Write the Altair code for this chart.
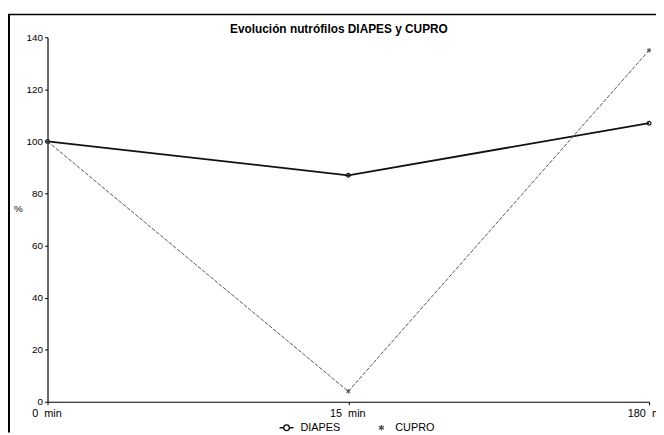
import altair as alt
import pandas as pd

# ---- data ----
times = ["0 min", "15 min", "180 min"]
series = ["DIAPES", "CUPRO"]
diapes = [100, 87, 107]
cupro = [100, 4, 135]
y_ticks = [0, 20, 40, 60, 80, 100, 120, 140]
title_text = "Evolución nutrófilos DIAPES y CUPRO"

rows = []
for t, v in zip(times, diapes):
    rows.append({"tiempo": t, "serie": "DIAPES", "valor": v})
for t, v in zip(times, cupro):
    rows.append({"tiempo": t, "serie": "CUPRO", "valor": v})
df = pd.DataFrame(rows)

FONT = "Liberation Sans"
STAR = "M0,-1L0,1M-0.87,-0.5L0.87,0.5M-0.87,0.5L0.87,-0.5"
STAR_SMALL = "M0,-0.4L0,0.4M-0.35,-0.2L0.35,0.2M-0.35,0.2L0.35,-0.2"
DASH_CIRCLE = ("M-1,0L-0.4,0M0.4,0L1,0M0.4,0A0.4,0.4,0,1,1,-0.4,0"
               "A0.4,0.4,0,1,1,0.4,0")

cscale = alt.Scale(domain=series, range=["#111111", "#555555"])

x_enc = alt.X(
    "tiempo:N", sort=times,
    scale=alt.Scale(type="point", padding=0),
    axis=alt.Axis(title=None, labelAngle=0, labelOffset=-1, labelPadding=3,
                  labelFontSize=11,
                  labelExpr="replace(datum.label, ' ', '\u00a0\u00a0')"),
)
y_enc = alt.Y(
    "valor:Q",
    scale=alt.Scale(domain=[0, 140], nice=False),
    axis=alt.Axis(values=y_ticks, title="%", titleAngle=0, titleX=-30, titleY=173,
                  titleAlign="center", titleBaseline="middle", titleFontSize=10,
                  titleFontWeight="normal", labelPadding=2),
)

base = alt.Chart(df).encode(x=x_enc, y=y_enc)
d_only = base.transform_filter(alt.datum.serie == "DIAPES")
c_only = base.transform_filter(alt.datum.serie == "CUPRO")

line_d = d_only.mark_line(color="#111111", strokeWidth=1.8)
line_c = c_only.mark_line(color="#555555", strokeWidth=1.0, strokeDash=[4, 1.5])

pts_d = d_only.mark_point(shape="circle", filled=False, size=14, color="#111111",
                          strokeWidth=1.2, opacity=1)
pts_c = c_only.mark_point(shape=STAR, filled=False, size=22, color="#444444",
                          strokeWidth=1, opacity=1)

leg = alt.Legend(orient="none", legendX=234, legendY=387, direction="horizontal",
                 title=None, labelFont=FONT, labelFontSize=11, labelColor="black",
                 symbolSize=200, columnPadding=33, symbolStrokeWidth=1.3, labelOffset=6)

legend_layer = base.transform_filter(alt.datum.valor < 0).mark_point(
    filled=False, strokeWidth=1.3, opacity=1).encode(
    color=alt.Color("serie:N", scale=cscale, legend=leg),
    shape=alt.Shape("serie:N", scale=alt.Scale(domain=series, range=[DASH_CIRCLE, STAR_SMALL]), legend=leg),
)

one = pd.DataFrame({"k": [0]})
frame_left = alt.Chart(one).mark_rule(color="black", strokeWidth=2).encode(
    x=alt.value(-39), y=alt.value(-23), y2=alt.value(400))
frame_top = alt.Chart(one).mark_rule(color="black", strokeWidth=1.5).encode(
    x=alt.value(-40), x2=alt.value(620), y=alt.value(-23))
title_mark = alt.Chart(one).mark_text(
    text=title_text, font=FONT, fontSize=12, fontWeight="bold", color="black",
    align="center", baseline="middle").encode(x=alt.value(295), y=alt.value(-8))

chart = alt.layer(frame_left, frame_top, title_mark, line_d, line_c, pts_d, pts_c,
                  legend_layer).properties(
    width=609, height=369,
    autosize=alt.AutoSizeParams(type="none"),
    padding={"left": 40, "top": 27, "right": 7, "bottom": 31},
    background="white",
).configure_view(stroke=None).configure_axis(
    labelFont=FONT, labelFontSize=10, labelColor="black", titleFont=FONT, titleColor="black",
    domainColor="black", domainWidth=1.2, tickColor="black", tickSize=3, grid=False,
)

chart.save("out.html", embed_options={"renderer": "svg", "actions": False})
